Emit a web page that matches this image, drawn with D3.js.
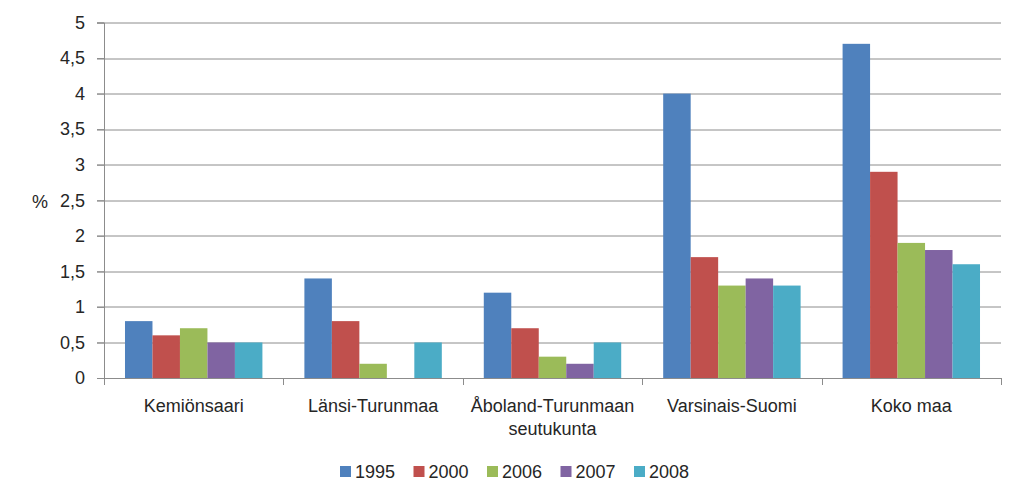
<!DOCTYPE html>
<html>
<head>
<meta charset="utf-8">
<script src="https://cdn.jsdelivr.net/npm/d3@7"></script>
<style>
  body { margin: 0; background: #fff; }
  text { font-family: "Liberation Sans", Arial, sans-serif; fill: #262626; }
</style>
</head>
<body>
<svg id="chart" width="1024" height="503"></svg>
<script>
var categories = ["Kemiönsaari", "Länsi-Turunmaa", "Åboland-Turunmaan\nseutukunta", "Varsinais-Suomi", "Koko maa"];
var years = ["1995", "2000", "2006", "2007", "2008"];
var values1995 = [0.8, 1.4, 1.2, 4.0, 4.7];
var values2000 = [0.6, 0.8, 0.7, 1.7, 2.9];
var values2006 = [0.7, 0.2, 0.3, 1.3, 1.9];
var values2007 = [0.5, 0, 0.2, 1.4, 1.8];
var values2008 = [0.5, 0.5, 0.5, 1.3, 1.6];
var yTicks = [0, 0.5, 1, 1.5, 2, 2.5, 3, 3.5, 4, 4.5, 5];
var colors = ["#4F81BD", "#C0504D", "#9BBB59", "#8064A2", "#4BACC6"];

var series = [values1995, values2000, values2006, values2007, values2008];
var data = categories.map(function (c, i) {
    return { cat: c, vals: series.map(function (s, k) { return { year: years[k], v: s[i] }; }) };
});

var svg = d3.select("#chart"),
    margin = {top: 22.5, right: 23, bottom: 125, left: 104},
    width = +svg.attr("width") - margin.left - margin.right,
    height = +svg.attr("height") - margin.top - margin.bottom,
    g = svg.append("g").attr("transform", "translate(" + margin.left + "," + margin.top + ")");

var x0 = d3.scaleBand().domain(categories).range([0, width]).paddingInner(0.234).paddingOuter(0.117);
var x1 = d3.scaleBand().domain(years).range([0, x0.bandwidth()]);
var y = d3.scaleLinear().domain([0, 5]).range([height, 0]);
var color = d3.scaleOrdinal().domain(years).range(colors);

// gridlines
g.append("g")
    .selectAll("line")
    .data(yTicks.filter(function (d) { return d > 0; }))
    .enter().append("line")
    .attr("x1", -7).attr("x2", width)
    .attr("y1", function (d) { return Math.round(y(d)) + 0.5; })
    .attr("y2", function (d) { return Math.round(y(d)) + 0.5; })
    .attr("stroke", "#8c8c8c");

// bars
g.append("g")
    .selectAll("g")
    .data(data)
    .enter().append("g")
    .attr("transform", function (d) { return "translate(" + x0(d.cat) + ",0)"; })
    .selectAll("rect")
    .data(function (d) { return d.vals; })
    .enter().append("rect")
    .attr("x", function (d) { return x1(d.year); })
    .attr("y", function (d) { return y(d.v); })
    .attr("width", x1.bandwidth())
    .attr("height", function (d) { return y(0) - y(d.v); })
    .attr("fill", function (d) { return color(d.year); });

// y axis
var yAxis = g.append("g")
    .call(d3.axisLeft(y).tickValues(yTicks).tickSize(7).tickPadding(12)
        .tickFormat(function (d) { return String(d).replace(".", ","); }));
yAxis.select(".domain").attr("stroke", "#8c8c8c");
yAxis.selectAll(".tick line").attr("stroke", "#8c8c8c");
yAxis.selectAll(".tick text").attr("font-size", 18).attr("fill", "#262626")
    .attr("font-family", "Liberation Sans, Arial, sans-serif");

// x axis (category dividers)
var xAxis = g.append("g").attr("transform", "translate(0," + height + ")");
xAxis.append("line").attr("x1", 0).attr("x2", width).attr("y1", 0.5).attr("y2", 0.5).attr("stroke", "#8c8c8c");
var step = x0.step();
xAxis.selectAll(".div")
    .data(d3.range(categories.length + 1))
    .enter().append("line")
    .attr("x1", function (i) { return Math.round(i * step) + 0.5; })
    .attr("x2", function (i) { return Math.round(i * step) + 0.5; })
    .attr("y1", 0).attr("y2", 7)
    .attr("stroke", "#8c8c8c");

var labels = xAxis.selectAll(".lab")
    .data(categories)
    .enter().append("text")
    .attr("text-anchor", "middle")
    .attr("font-size", 18)
    .attr("transform", function (d) { return "translate(" + (x0(d) + x0.bandwidth() / 2) + ",34)"; });
labels.selectAll("tspan")
    .data(function (d) { return d.split("\n"); })
    .enter().append("tspan")
    .attr("x", 0)
    .attr("dy", function (d, i) { return i === 0 ? 0 : 23; })
    .text(function (d) { return d; });

// y label
svg.append("text")
    .attr("x", 40).attr("y", 208)
    .attr("text-anchor", "middle")
    .attr("font-size", 18)
    .text("%");

// legend
var legend = svg.append("g").attr("transform", "translate(340,472)");
var item = legend.selectAll("g")
    .data(years)
    .enter().append("g")
    .attr("transform", function (d, i) { return "translate(" + (i * 73.5) + ",0)"; });
item.append("rect")
    .attr("x", 0).attr("y", -6).attr("width", 11).attr("height", 11)
    .attr("fill", function (d) { return color(d); });
item.append("text")
    .attr("x", 15).attr("y", 6)
    .attr("font-size", 18)
    .text(function (d) { return d; });
</script>
</body>
</html>
